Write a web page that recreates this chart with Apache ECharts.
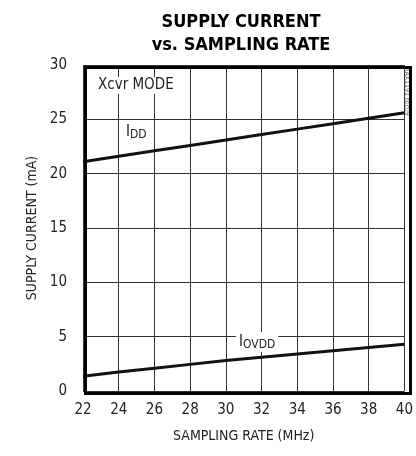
<!DOCTYPE html>
<html><head><meta charset="utf-8">
<script src="https://cdn.jsdelivr.net/npm/echarts@6/dist/echarts.min.js"></script>
<style>html,body{margin:0;padding:0;background:#fff}#c{width:416px;height:456px}</style>
</head><body><div id="c"></div>
<script>
const rates = [22, 24, 26, 28, 30, 32, 34, 36, 38, 40];
const idd = [21.1, 21.6, 22.1, 22.6, 23.1, 23.6, 24.1, 24.6, 25.1, 25.6];
const iovdd = [1.35, 1.75, 2.1, 2.45, 2.8, 3.1, 3.4, 3.7, 4.0, 4.3];
const FONT = '"Liberation Sans Narrow","DejaVu Sans Condensed","Liberation Sans",sans-serif';
const chart = echarts.init(document.getElementById('c'));
chart.setOption({
  animation: false,
  title: {
    text: 'SUPPLY CURRENT\nvs. SAMPLING RATE',
    left: 236, top: 6, textAlign: 'center',
    textStyle: {fontFamily: FONT, fontWeight: 'bold', fontSize: 18, lineHeight: 23, color: '#000'}
  },
  grid: {left: 83, right: 8, top: 65, bottom: 65},
  xAxis: {
    type: 'value', min: 22, max: 40, interval: 2,
    name: 'SAMPLING RATE (MHz)', nameLocation: 'middle', nameGap: 38,
    nameTextStyle: {fontFamily: FONT, fontSize: 14, color: '#222'},
    axisLine: {show: false}, axisTick: {show: false},
    axisLabel: {fontFamily: FONT, fontSize: 15, color: '#222', margin: 12},
    splitLine: {lineStyle: {color: '#333', width: 1}}
  },
  yAxis: {
    type: 'value', min: 0, max: 30, interval: 5,
    name: 'SUPPLY CURRENT (mA)', nameLocation: 'middle', nameGap: 43,
    nameTextStyle: {fontFamily: FONT, fontSize: 14, color: '#222'},
    axisLine: {show: false}, axisTick: {show: false},
    axisLabel: {fontFamily: FONT, fontSize: 15, color: '#222', margin: 16},
    splitLine: {lineStyle: {color: '#333', width: 1}}
  },
  series: [
    {type: 'line', data: rates.map((r, i) => [r, idd[i]]), symbol: 'none', lineStyle: {color: '#111', width: 3}, z: 3},
    {type: 'line', data: rates.map((r, i) => [r, iovdd[i]]), symbol: 'none', lineStyle: {color: '#111', width: 3}, z: 3}
  ],
  graphic: [
    {type: 'rect', left: 83, top: 65, shape: {width: 325, height: 326}, style: {fill: 'none', stroke: '#000', lineWidth: 3}, z: 10},
    {type: 'text', left: 96, top: 77, style: {text: 'Xcvr MODE', fontFamily: FONT, fontSize: 15, fill: '#222', backgroundColor: '#fff', padding: [1, 2]}, z: 5},
    {type: 'text', left: 124, top: 122, style: {
      text: '{m|I}{s|DD}', backgroundColor: '#fff', padding: [1, 2],
      rich: {m: {fontFamily: FONT, fontSize: 15, fill: '#222'}, s: {fontFamily: FONT, fontSize: 12, fill: '#222', verticalAlign: 'bottom', padding: [6, 0, 0, 0]}}
    }, z: 5},
    {type: 'text', left: 236, top: 332, style: {
      text: '{m|I}{s|OVDD}', backgroundColor: '#fff', padding: [1, 3],
      rich: {m: {fontFamily: FONT, fontSize: 15, fill: '#222'}, s: {fontFamily: FONT, fontSize: 12, fill: '#222', verticalAlign: 'bottom', padding: [6, 0, 0, 0]}}
    }, z: 5},
    {type: 'text', x: 410, y: 66, rotation: -Math.PI / 2, style: {text: 'MAX1191 toc09', fontFamily: FONT, fontSize: 7, fill: '#666'}, z: 5}
  ]
});
</script></body></html>
